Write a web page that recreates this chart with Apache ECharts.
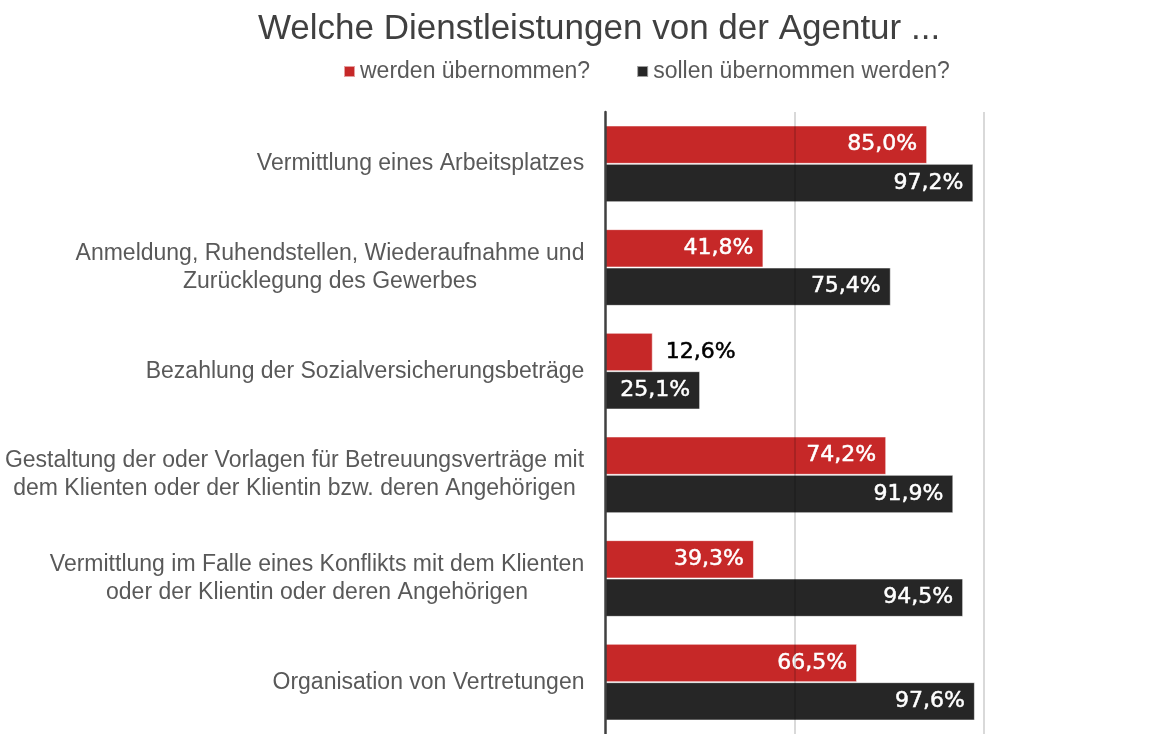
<!DOCTYPE html>
<html>
<head>
<meta charset="utf-8">
<script src="https://cdn.jsdelivr.net/npm/echarts@6/dist/echarts.min.js"></script>
<style>
  html, body { margin: 0; padding: 0; background: #fff; }
  #chart { width: 1167px; height: 734px; }
</style>
</head>
<body>
<div id="chart"></div>
<script>
var categories = [
    'Vermittlung eines Arbeitsplatzes',
    'Anmeldung, Ruhendstellen, Wiederaufnahme und\nZurücklegung des Gewerbes',
    'Bezahlung der Sozialversicherungsbeträge',
    'Gestaltung der oder Vorlagen für Betreuungsverträge mit\ndem Klienten oder der Klientin bzw. deren Angehörigen',
    'Vermittlung im Falle eines Konflikts mit dem Klienten\noder der Klientin oder deren Angehörigen',
    'Organisation von Vertretungen'
];
var seriesNames = ['werden übernommen?', 'sollen übernommen werden?'];
var werden = [85.0, 41.8, 12.6, 74.2, 39.3, 66.5];
var sollen = [97.2, 75.4, 25.1, 91.9, 94.5, 97.6];
var gridValues = [50, 100];

var textFont = 'Liberation Sans';
var labelSize = 23;

// Breite jeder Achsenbeschriftung messen, damit die Zeilen zentriert stehen
var ctx = document.createElement('canvas').getContext('2d');
ctx.font = labelSize + 'px "' + textFont + '"';
var rich = {};
categories.forEach(function (c, i) {
    var w = 0;
    c.split('\n').forEach(function (line) {
        w = Math.max(w, ctx.measureText(line).width);
    });
    rich['c' + i] = {
        width: Math.ceil(w) + 1,
        align: 'center',
        fontSize: labelSize,
        fontFamily: textFont,
        color: '#595959',
        lineHeight: 28
    };
});

function fmt(v) {
    return v.toFixed(1).replace('.', ',') + '%';
}

function barData(values) {
    return values.map(function (v) {
        if (v < 20) {
            return { value: v, label: { position: 'right', distance: 13, color: '#000', textBorderColor: '#000' } };
        }
        return v;
    });
}

var valueLabel = {
    show: true,
    position: 'insideRight',
    distance: 10,
    color: '#fff',
    textBorderColor: '#fff',
    textBorderWidth: 0.5,
    fontFamily: 'DejaVu Sans',
    fontSize: 22,
    formatter: function (p) { return fmt(p.value); }
};

var chart = echarts.init(document.getElementById('chart'));
var option = {
    backgroundColor: '#fff',
    animation: false,
    title: {
        text: 'Welche Dienstleistungen von der Agentur ...',
        left: 594,
        textAlign: 'center',
        top: 7,
        textStyle: { fontFamily: textFont, fontSize: 35, fontWeight: 'normal', color: '#404040' }
    },
    legend: {
        data: seriesNames,
        left: 343,
        top: 60,
        padding: 0,
        itemWidth: 11,
        itemHeight: 11,
        itemGap: 46,
        icon: 'rect',
        textStyle: { fontFamily: textFont, fontSize: 23, color: '#595959' }
    },
    grid: { left: 605, right: 183, top: 112, bottom: -2 },
    xAxis: {
        type: 'value',
        min: 0,
        max: 100,
        interval: 50,
        axisLabel: { show: false },
        axisLine: { show: false },
        axisTick: { show: false },
        splitLine: { show: false }
    },
    yAxis: {
        type: 'category',
        data: categories,
        inverse: true,
        z: 5,
        axisLine: { lineStyle: { color: '#404040', width: 2.5 } },
        axisTick: { show: false },
        axisLabel: {
            margin: 20,
            formatter: function (value, index) {
                return value.split('\n').map(function (line) {
                    return '{c' + index + '|' + line + '}';
                }).join('\n');
            },
            rich: rich
        }
    },
    series: [
        {
            name: seriesNames[0],
            type: 'bar',
            data: barData(werden),
            barGap: '0%',
            barCategoryGap: '26%',
            itemStyle: { color: '#c62828', borderColor: 'rgba(255,255,255,0.55)', borderWidth: 1 },
            label: valueLabel
        },
        {
            name: seriesNames[1],
            type: 'bar',
            data: barData(sollen),
            barGap: '0%',
            barCategoryGap: '26%',
            itemStyle: { color: '#262626', borderColor: 'rgba(255,255,255,0.55)', borderWidth: 1 },
            label: valueLabel,
            markLine: {
                silent: true,
                symbol: 'none',
                label: { show: false },
                lineStyle: { color: 'rgba(0,0,0,0.2)', type: 'solid', width: 1.5 },
                data: gridValues.map(function (v) { return { xAxis: v }; })
            }
        }
    ]
};
chart.setOption(option);
</script>
</body>
</html>
